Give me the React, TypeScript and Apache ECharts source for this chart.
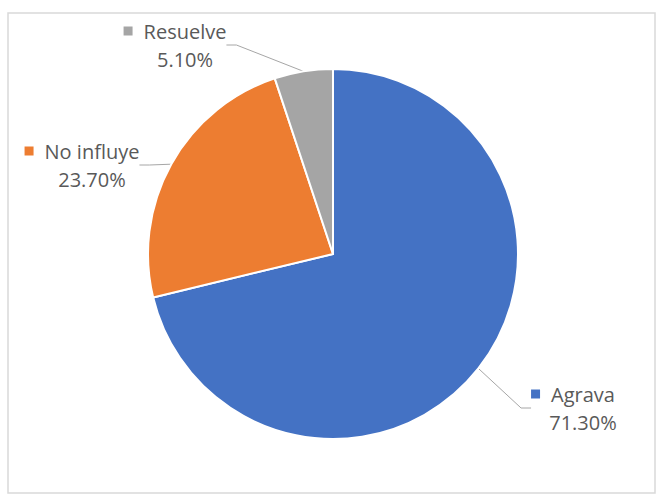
import React, { useEffect, useRef } from "react";
import * as echarts from "echarts";

const categories = ["Agrava", "No influye", "Resuelve"];
const values = [71.3, 23.7, 5.1];
const colors = ["#4472C4", "#ED7D31", "#A5A5A5"];
// label block centres (layout only)
const labelCenters: [number, number][] = [
  [573, 408],
  [82, 165],
  [175, 45],
];

export default function App() {
  const ref = useRef<HTMLDivElement>(null);
  useEffect(() => {
    const chart = echarts.init(ref.current!, null, { renderer: "svg" });
    const rich: Record<string, any> = {
      s: { width: 11 },
      p: { width: 20 },
      n: { fontSize: 20, color: "#595959", lineHeight: 28, fontFamily: "Open Sans" },
      v: { fontSize: 20, color: "#595959", lineHeight: 28, fontFamily: "Open Sans" },
    };
    colors.forEach((c, i) => {
      rich["m" + i] = { width: 9, height: 9, backgroundColor: c };
    });
    chart.setOption({
      animation: false,
      textStyle: { fontFamily: "Open Sans" },
      graphic: [
        {
          type: "rect",
          silent: true,
          z: -1,
          shape: { x: 8, y: 13, width: 647, height: 480 },
          style: { fill: "#ffffff", stroke: "#d9d9d9", lineWidth: 1.5 },
        },
      ],
      series: [
        {
          type: "pie",
          center: [333, 254],
          radius: 185,
          startAngle: 90,
          clockwise: true,
          itemStyle: { borderColor: "#ffffff", borderWidth: 2 },
          data: categories.map((n, i) => ({
            name: n,
            value: values[i],
            itemStyle: { color: colors[i] },
            label: {
              formatter: `{m${i}| }{s| }{n|${n}}\n{p| }{v|${values[i].toFixed(2)}%}`,
            },
          })),
          label: {
            show: true,
            position: "outside",
            rich,
          },
          labelLine: {
            show: true,
            length: 20,
            length2: 10,
            lineStyle: { color: "#a6a6a6", width: 1 },
          },
          labelLayout: (params: any) => ({
            x: labelCenters[params.dataIndex][0],
            y: labelCenters[params.dataIndex][1],
            align: "center",
            verticalAlign: "middle",
          }),
          emphasis: { disabled: true },
        },
      ],
    });
    return () => chart.dispose();
  }, []);
  return (
    <div
      ref={ref}
      style={{ position: "fixed", left: 0, top: 0, width: 660, height: 495, background: "#fff" }}
    />
  );
}
